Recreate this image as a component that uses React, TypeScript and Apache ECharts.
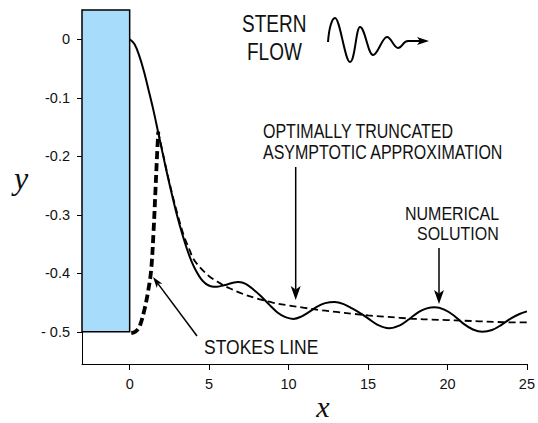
import React, { useEffect, useRef } from "react";
import * as echarts from "echarts";

// Numerical solution (solid)
const numX = [0, 0.3, 0.6, 0.9, 1.2, 1.5, 1.8, 2.1, 2.4, 2.7, 3.0, 3.3, 3.6, 3.9, 4.2, 4.5, 4.8, 5.1, 5.5, 6.0, 6.5, 6.85, 7.3, 7.8, 8.3, 8.8, 9.3, 9.8, 10.3, 10.8, 11.3, 11.8, 12.3, 12.9, 13.5, 14.0, 14.5, 15.0, 15.6, 16.3, 17.0, 17.6, 18.2, 18.7, 19.2, 19.8, 20.4, 21.0, 21.6, 22.2, 22.8, 23.4, 24.0, 24.5, 25.0];
const numY = [0, -0.008, -0.028, -0.055, -0.088, -0.122, -0.16, -0.198, -0.235, -0.27, -0.303, -0.332, -0.358, -0.38, -0.397, -0.41, -0.418, -0.422, -0.423, -0.42, -0.416, -0.415, -0.418, -0.428, -0.44, -0.454, -0.467, -0.475, -0.478, -0.474, -0.466, -0.457, -0.451, -0.449, -0.453, -0.46, -0.468, -0.477, -0.488, -0.494, -0.489, -0.478, -0.466, -0.46, -0.458, -0.462, -0.472, -0.486, -0.496, -0.5, -0.497, -0.488, -0.477, -0.47, -0.465];

// Optimally truncated asymptotic approximation (thin dashed)
const asymX = [1.8, 2.1, 2.4, 2.7, 3.0, 3.4, 3.8, 4.0, 4.5, 5.0, 5.5, 6.0, 6.5, 7.0, 8.0, 9.0, 10.0, 11.0, 12.0, 13.0, 14.0, 15.0, 16.0, 17.0, 18.0, 19.0, 20.0, 21.0, 22.0, 23.0, 24.0, 25.0];
const asymY = [-0.158, -0.196, -0.233, -0.267, -0.298, -0.335, -0.362, -0.375, -0.392, -0.405, -0.414, -0.422, -0.428, -0.434, -0.443, -0.45, -0.455, -0.459, -0.463, -0.466, -0.469, -0.472, -0.474, -0.476, -0.478, -0.479, -0.48, -0.481, -0.482, -0.483, -0.484, -0.484];

// Stokes line switching-on (thick dashed)
const stokesX = [0.1, 0.35, 0.62, 0.93, 1.14, 1.35, 1.5, 1.62, 1.72, 1.8];
const stokesY = [-0.502, -0.5, -0.491, -0.462, -0.434, -0.395, -0.33, -0.26, -0.2, -0.158];

// Wall (blue rectangle)
const wallX = [-3, 0];
const wallY = [-0.5, 0.05];

const xTicks = [0, 5, 10, 15, 20, 25];
const yTicks = [0, -0.1, -0.2, -0.3, -0.4, -0.5];
const yTickLabels = ["0", "-0.1", "-0.2", "-0.3", "-0.4", "- 0.5"];

const pairs = (xs: number[], ys: number[]) => xs.map((x, i) => [x, ys[i]]);

const WAVE_D =
  "M328,42 C329,28 332,18 335,18 C340,18 345,62 350,62 C355,62 356,27 360,27 C365,27 368,55 373,55 C378,55 382,37 387,37 C391,37 394,48 398,48 C402,48 403,41 408,41 L420,41";

let registered = false;
function ensureShape() {
  if (registered) return;
  echarts.graphic.registerShape("sternwave", echarts.graphic.extendPath(WAVE_D, {}) as any);
  registered = true;
}

const SANS = "'Liberation Sans', Arial, sans-serif";

function label(text: string, x: number, y: number, size: number, sy = 1.2) {
  return {
    type: "text",
    x,
    y,
    scaleY: sy,
    silent: true,
    style: {
      text,
      fill: "#111",
      font: `${size}px ${SANS}`,
      textAlign: "left",
      textVerticalAlign: "middle",
    },
  };
}

function arrow(x1: number, y1: number, x2: number, y2: number, headLen: number, headW: number) {
  const dx = x2 - x1;
  const dy = y2 - y1;
  const L = Math.hypot(dx, dy);
  const ux = dx / L;
  const uy = dy / L;
  const px = -uy;
  const py = ux;
  const bx = x2 - ux * headLen;
  const by = y2 - uy * headLen;
  const nx = x2 - ux * headLen * 0.75;
  const ny = y2 - uy * headLen * 0.75;
  return [
    {
      type: "line",
      silent: true,
      shape: { x1, y1, x2: nx, y2: ny },
      style: { stroke: "#000", lineWidth: 1.5 },
    },
    {
      type: "polygon",
      silent: true,
      shape: {
        points: [
          [x2, y2],
          [bx + px * headW, by + py * headW],
          [nx, ny],
          [bx - px * headW, by - py * headW],
        ],
      },
      style: { fill: "#000" },
    },
  ];
}

export default function App() {
  const ref = useRef<HTMLDivElement>(null);

  useEffect(() => {
    if (!ref.current) return;
    ensureShape();
    const chart = echarts.init(ref.current, null, { renderer: "svg" });

    const option: any = {
      animation: false,
      backgroundColor: "#fff",
      grid: { left: 82, right: 6, top: 10, bottom: 59 },
      xAxis: {
        type: "value",
        min: -3,
        max: 25,
        axisLine: { show: true, onZero: false, lineStyle: { color: "#000", width: 1 } },
        axisTick: { show: true, inside: false, length: 6, lineStyle: { color: "#000" }, customValues: xTicks },
        axisLabel: { show: true, margin: 12, color: "#111", fontSize: 14.5, fontFamily: SANS, customValues: xTicks },
        splitLine: { show: false },
      },
      yAxis: {
        type: "value",
        min: -0.555,
        max: 0.05,
        axisLine: { show: true, onZero: false, lineStyle: { color: "#000", width: 1 } },
        axisTick: { show: true, inside: false, length: 5, lineStyle: { color: "#000" }, customValues: yTicks },
        axisLabel: {
          show: true,
          margin: 12,
          color: "#111",
          fontSize: 14.5,
          fontFamily: SANS,
          customValues: yTicks,
          formatter: (v: number) => {
            const i = yTicks.findIndex((t) => Math.abs(t - v) < 1e-9);
            return i >= 0 ? yTickLabels[i] : "";
          },
        },
        splitLine: { show: false },
      },
      series: [
        {
          name: "Numerical solution",
          type: "line",
          data: pairs(numX, numY),
          smooth: 0.35,
          showSymbol: false,
          lineStyle: { color: "#000", width: 2 },
          z: 3,
          markArea: {
            silent: true,
            itemStyle: { color: "#a7dcfa", borderColor: "#000", borderWidth: 1.5 },
            data: [[{ coord: [wallX[0], wallY[1]] }, { coord: [wallX[1], wallY[0]] }]],
          },
        },
        {
          name: "Asymptotic approximation",
          type: "line",
          data: pairs(asymX, asymY),
          smooth: 0.35,
          showSymbol: false,
          lineStyle: { color: "#000", width: 1.8, type: [7, 4] },
          z: 4,
        },
        {
          name: "Stokes line",
          type: "line",
          data: pairs(stokesX, stokesY),
          smooth: 0.35,
          showSymbol: false,
          lineStyle: { color: "#000", width: 3.8, type: [8, 4] },
          z: 4,
        },
      ],
      graphic: [
        {
          type: "text",
          x: 21,
          y: 178,
          silent: true,
          style: {
            text: "y",
            fill: "#111",
            font: "italic 32px 'Liberation Serif', serif",
            textAlign: "center",
            textVerticalAlign: "middle",
          },
        },
        {
          type: "text",
          x: 323,
          y: 406,
          silent: true,
          style: {
            text: "x",
            fill: "#111",
            font: "italic 30px 'Liberation Serif', serif",
            textAlign: "center",
            textVerticalAlign: "middle",
          },
        },
        label("STERN", 242, 24, 19, 1.25),
        label("FLOW", 247, 52, 19, 1.25),
        label("OPTIMALLY TRUNCATED", 263, 131, 16, 1.25),
        label("ASYMPTOTIC APPROXIMATION", 263, 152, 16, 1.25),
        label("NUMERICAL", 405, 213, 16),
        label("SOLUTION", 417, 233, 16),
        label("STOKES LINE", 204, 347, 17.5, 1.2),
        ...arrow(197, 336, 153, 277, 11, 3.5),
        ...arrow(295.7, 167, 295.7, 300, 14, 5),
        ...arrow(439, 248, 439, 304, 14, 5),
        {
          type: "sternwave",
          x: 0,
          y: 0,
          silent: true,
          style: { fill: "none", stroke: "#000", lineWidth: 2 },
        },
        {
          type: "polygon",
          silent: true,
          shape: { points: [[429, 41], [417, 37], [420, 41], [417, 45]] },
          style: { fill: "#000" },
        },
      ],
    };

    chart.setOption(option);
    return () => chart.dispose();
  }, []);

  return (
    <div
      ref={ref}
      style={{ position: "fixed", left: 0, top: 0, width: 538, height: 423, background: "#fff" }}
    />
  );
}
